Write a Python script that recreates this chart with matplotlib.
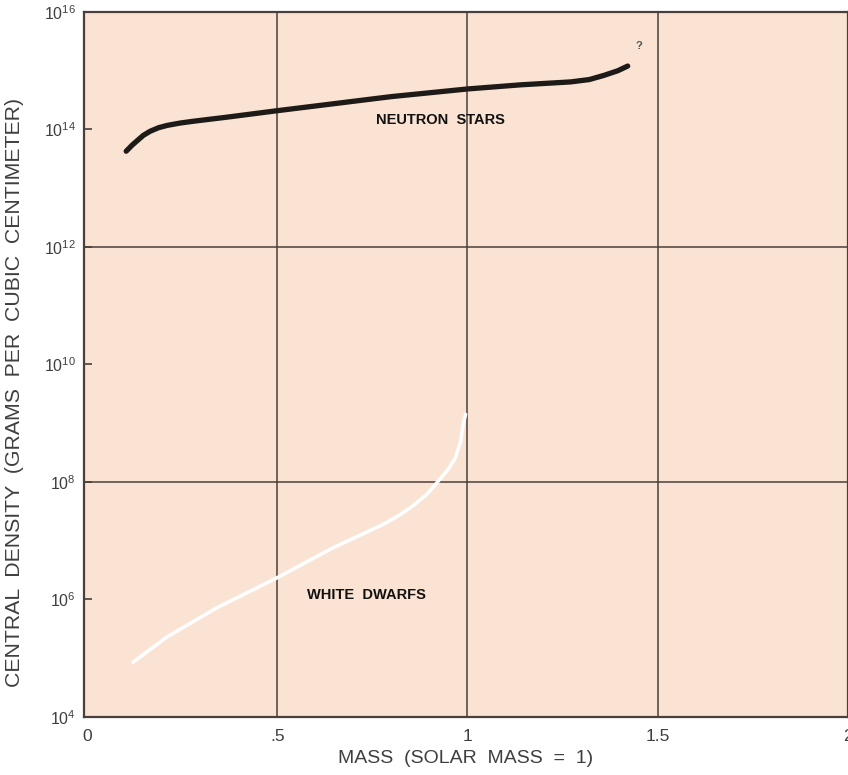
import numpy as np
import matplotlib.pyplot as plt
from matplotlib.ticker import FixedLocator, FuncFormatter

plt.rcParams['font.family'] = ['Liberation Sans', 'DejaVu Sans']
plt.rcParams['mathtext.fontset'] = 'custom'
plt.rcParams['mathtext.rm'] = 'Liberation Sans'
plt.rcParams['mathtext.it'] = 'Liberation Sans'

# central density curves, log10(g/cm^3) against mass in solar units
neutron_mass = [0.103, 0.118, 0.132, 0.148, 0.166, 0.188, 0.211, 0.245, 0.279, 0.368, 0.50, 0.65, 0.80, 1.00, 1.139, 1.271, 1.32, 1.358, 1.395, 1.421]
neutron_logrho = [13.63, 13.73, 13.81, 13.90, 13.97, 14.03, 14.07, 14.11, 14.14, 14.21, 14.32, 14.44, 14.56, 14.69, 14.76, 14.81, 14.85, 14.92, 15.00, 15.08]

dwarf_mass = [0.121, 0.21, 0.342, 0.50, 0.647, 0.72, 0.779, 0.82, 0.858, 0.895, 0.924, 0.950, 0.968, 0.982, 0.989, 0.995]
dwarf_logrho = [4.93, 5.36, 5.86, 6.37, 6.88, 7.10, 7.28, 7.43, 7.60, 7.80, 8.02, 8.22, 8.41, 8.69, 9.00, 9.15]

y_ticks = [1e4, 1e6, 1e8, 1e10, 1e12, 1e14, 1e16]
x_ticks = [0, 0.5, 1, 1.5, 2]
x_ticklabels = ['0', '.5', '1', '1.5', '2']
grid_x = [0.5, 1.0, 1.5]
grid_y = [1e8, 1e12]

bg = '#fae3d3'
frame = '#4a3f3b'
text_gray = '#3f3f3f'

fig = plt.figure(figsize=(8.48, 7.75), dpi=100)
ax = fig.add_axes([0.099, 0.075, 0.901, 0.9095])
ax.set_facecolor(bg)

ax.set_yscale('log')
ax.set_xlim(-0.008, 2.0)
ax.set_ylim(1e4, 1e16)

for gx in grid_x:
    ax.axvline(gx, color=frame, lw=1.1, zorder=1)
for gy in grid_y:
    ax.axhline(gy, color=frame, lw=1.1, zorder=1)

ax.plot(neutron_mass, 10 ** np.array(neutron_logrho), color='#1e1a18',
        lw=3.8, solid_capstyle='round', solid_joinstyle='round', zorder=3)
ax.plot(dwarf_mass, 10 ** np.array(dwarf_logrho), color='white',
        lw=2.6, solid_capstyle='round', solid_joinstyle='round', zorder=3)

ax.text(0.93, 10 ** 14.17, 'NEUTRON  STARS', ha='center', va='center',
        fontsize=10.5, fontweight='bold', color='#111111')
ax.text(0.734, 10 ** 6.08, 'WHITE  DWARFS', ha='center', va='center',
        fontsize=10.5, fontweight='bold', color='#111111')
ax.text(1.45, 10 ** 15.42, '?', ha='center', va='center',
        fontsize=8, fontweight='bold', color='#555555')

ax.yaxis.set_major_locator(FixedLocator(y_ticks))
ax.yaxis.set_minor_locator(FixedLocator([]))
ax.yaxis.set_major_formatter(FuncFormatter(lambda v, p: r'$10^{%d}$' % round(np.log10(v))))
ax.tick_params(axis='y', direction='in', length=6, width=1.2, color=frame,
               labelsize=11.5, labelcolor=text_gray, pad=6)

ax.set_xticks(x_ticks)
ax.set_xticklabels(x_ticklabels)
ax.tick_params(axis='x', length=0, labelsize=12.5, labelcolor=text_gray, pad=9)

for side in ['left', 'bottom', 'top', 'right']:
    ax.spines[side].set_color(frame)
    ax.spines[side].set_linewidth(1.6)

ax.set_xlabel('MASS  (SOLAR  MASS  =  1)', fontsize=14, color=text_gray, labelpad=4)
ax.set_ylabel('CENTRAL  DENSITY  (GRAMS  PER  CUBIC  CENTIMETER)', fontsize=15.3,
              color=text_gray)
ax.yaxis.set_label_coords(-0.078, 0.46)

fig.savefig('out.png', dpi=100, facecolor='white')
